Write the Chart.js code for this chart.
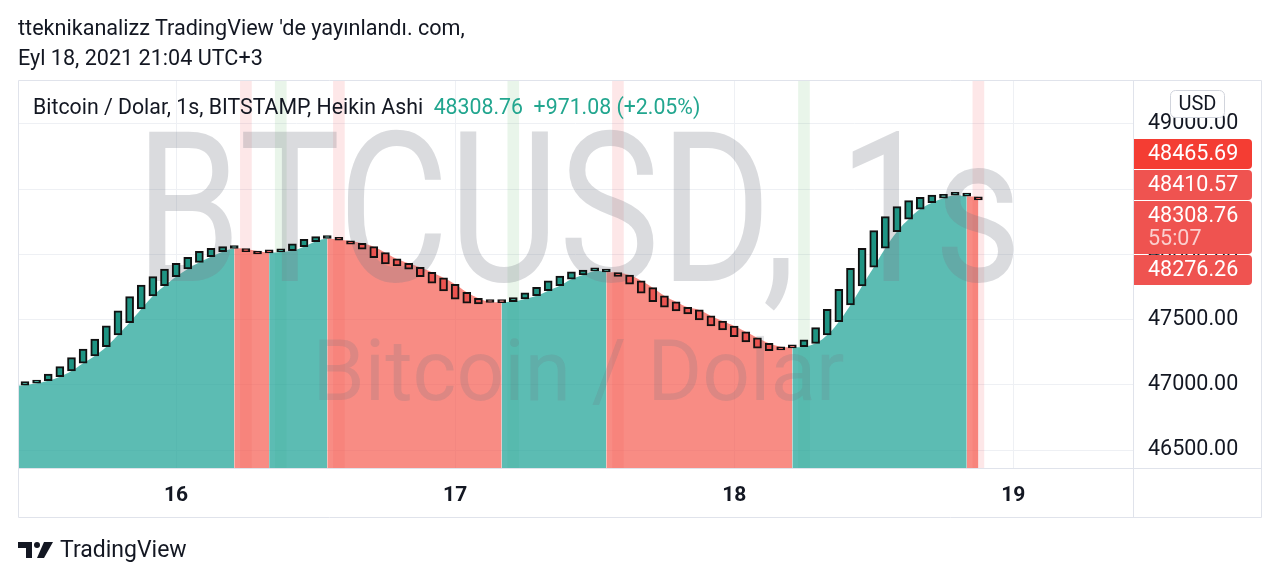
<!DOCTYPE html>
<html>
<head>
<meta charset="utf-8">
<script src="https://cdn.jsdelivr.net/npm/chart.js@4.4.1/dist/chart.umd.min.js"></script>
<style>
  body { margin: 0; background: #fff; font-family: Roboto, 'Noto Sans', sans-serif; color: #131722; }
  #wrap { position: relative; width: 1280px; height: 581px; overflow: hidden; }
  #grafico { position: absolute; left: 0; top: 0; }
  .txt { position: absolute; white-space: nowrap; }
  .head { font-size: 21.6px; left: 18px; }
  .leyenda { left: 33px; top: 94px; font-size: 21.3px; }
  .leyenda .v { color: #22a68f; }
  .pie { left: 18px; top: 536px; font-size: 23px; display: flex; align-items: center; }
</style>
</head>
<body>
<div id="wrap">
  <canvas id="grafico" width="1280" height="581"></canvas>
  <div class="txt head" style="top:15px">tteknikanalizz TradingView 'de yayınlandı. com,</div>
  <div class="txt head" style="top:45px">Eyl 18, 2021 21:04 UTC+3</div>
  <div class="txt leyenda">Bitcoin / Dolar, 1s, BITSTAMP, Heikin Ashi&nbsp;&nbsp;<span class="v">48308.76&nbsp;&nbsp;+971.08 (+2.05%)</span></div>
  <div class="txt pie">
    <svg width="36" height="18" viewBox="0 0 36 18" style="margin-right:6px">
      <path d="M0 1h14v16h-6V7H0z" fill="#131722"/>
      <circle cx="19" cy="4" r="3" fill="#131722"/>
      <path d="M26 1h9l-9 16h-7z" fill="#131722"/>
    </svg>
    TradingView
  </div>
</div>
<script>
// saat 0 = 16 Eyl 00:00, mumlar saatlik
const primeraHora = -14;
const aperturas = [46990, 46998, 47012, 47031, 47062, 47106, 47166, 47221, 47292, 47382, 47477, 47581, 47681, 47760, 47829, 47888, 47939, 47982, 48021, 48045,
  48041, 48026, 48015, 48019, 48028, 48059, 48098, 48122, 48112, 48103, 48085, 48059, 48013, 47965, 47932, 47901, 47863, 47821, 47771, 47709,
  47663, 47635, 47634, 47638, 47658, 47683, 47722, 47760, 47809, 47842, 47873, 47865, 47860, 47842, 47798, 47745, 47683, 47637, 47594, 47574,
  47528, 47489, 47451, 47407, 47361, 47318, 47292, 47287, 47292, 47318, 47382, 47484, 47612, 47758, 47901, 48047, 48174, 48269, 48347, 48396,
  48431, 48453, 48446, 48442];
const cierres = [47006, 47024, 47037, 47083, 47139, 47208, 47274, 47351, 47453, 47568, 47676, 47765, 47829, 47888, 47932, 47978, 48024, 48047, 48059, 48049,
  48021, 48003, 48011, 48023, 48080, 48116, 48136, 48126, 48108, 48078, 48040, 47975, 47926, 47911, 47886, 47829, 47779, 47719, 47656, 47626,
  47620, 47631, 47630, 47668, 47706, 47748, 47798, 47834, 47867, 47880, 47877, 47869, 47830, 47771, 47702, 47638, 47595, 47566, 47543, 47497,
  47451, 47420, 47369, 47328, 47280, 47262, 47267, 47283, 47344, 47438, 47579, 47732, 47893, 48047, 48182, 48289, 48366, 48412, 48438, 48455,
  48461, 48457, 48450, 48417];
const diasTicks = [0, 24, 48, 72];
const diasEtiquetas = ['16', '17', '18', '19'];
const preciosTicks = [46500, 47000, 47500, 48000, 48500, 49000];
const etiquetasPrecio = [48465.69, 48410.57, 48308.76, 48276.26];
const cuentaAtras = '55:07';
const xMin = -13.6, xMax = 82.3;
const yMin = 46362, yMax = 49337;

const VERDE = '#1e9483';
const ROJO = '#ea5450';
const alcista = i => cierres[i] >= aperturas[i];

const velas = aperturas.map((o, i) => ({ x: primeraHora + i, y: [o, cierres[i]] }));
const lineaArea = aperturas.map((o, i) => ({ x: primeraHora + i, y: o }));
const bandas = [];
const coloresBandas = [];
for (let i = 1; i < aperturas.length; i++) {
  if (alcista(i) !== alcista(i - 1)) {
    bandas.push({ x: primeraHora + i, y: [yMin, yMax] });
    coloresBandas.push(alcista(i) ? 'rgba(76,175,80,0.12)' : 'rgba(242,54,69,0.12)');
  }
}

const fuente = "Roboto, 'Noto Sans', sans-serif";

const marcaAgua = {
  id: 'marcaAgua',
  afterDatasetDraw(chart, args) {
    if (args.index !== 1) return;
    const { ctx, chartArea: a } = chart;
    ctx.save();
    ctx.beginPath();
    ctx.rect(a.left, a.top, a.width, a.height);
    ctx.clip();
    const cx = (a.left + a.right) / 2;
    const lineas = [
      { t: 'BTCUSD, 1s', size: 210, w: 0.795, y: 0.517, c: 'rgba(120,123,134,0.27)' },
      { t: 'Bitcoin / Dolar', size: 86, w: 0.477, y: 0.826, c: 'rgba(110,113,124,0.2)' }
    ];
    ctx.textAlign = 'center';
    ctx.textBaseline = 'alphabetic';
    lineas.forEach(l => {
      ctx.font = l.size + 'px ' + fuente;
      const sx = (a.width * l.w) / ctx.measureText(l.t).width;
      ctx.save();
      ctx.translate(cx + 3, a.top + a.height * l.y);
      ctx.scale(sx, 1);
      ctx.fillStyle = l.c;
      ctx.fillText(l.t, 0, 0);
      ctx.restore();
    });
    ctx.restore();
  }
};

const marco = {
  id: 'marco',
  afterDatasetsDraw(chart) {
    const { ctx, chartArea: a } = chart;
    const r = chart.scales.y.right, b = chart.scales.x.bottom;
    ctx.save();
    ctx.strokeStyle = '#e0e3eb';
    ctx.lineWidth = 1;
    ctx.beginPath();
    ctx.rect(a.left + 0.5, a.top + 0.5, r - a.left - 1, b - a.top - 1);
    ctx.moveTo(a.left, a.bottom + 0.5); ctx.lineTo(r, a.bottom + 0.5);
    ctx.moveTo(a.right + 0.5, a.top); ctx.lineTo(a.right + 0.5, b);
    ctx.stroke();
    ctx.restore();
  },
  afterDraw(chart) {
    const { ctx, chartArea: a } = chart;
    const y = chart.scales.y;
    ctx.save();
    // etiquetas de precio apiladas
    const alturas = etiquetasPrecio.map(p => (p === 48308.76 ? 53 : 30));
    const total = alturas.reduce((s, h) => s + h, 0) + (alturas.length - 1);
    const centro = etiquetasPrecio.reduce((s, p, i) => s + y.getPixelForValue(p) * alturas[i], 0) /
      alturas.reduce((s, h) => s + h, 0) + 4;
    let top = Math.round(centro - total / 2);
    ctx.font = '21.5px ' + fuente;
    ctx.textBaseline = 'middle';
    ctx.textAlign = 'left';
    etiquetasPrecio.forEach((p, i) => {
      const h = alturas[i];
      ctx.fillStyle = i === 0 ? '#f43d33' : '#ef5350';
      ctx.beginPath();
      ctx.roundRect(a.right + 1, top, 118, h, [0, 4, 4, 0]);
      ctx.fill();
      ctx.fillStyle = '#ffffff';
      ctx.fillText(p.toFixed(2), a.right + 15, top + 16);
      if (h > 30) {
        ctx.fillStyle = 'rgba(255,255,255,0.72)';
        ctx.fillText(cuentaAtras, a.right + 15, top + 39);
      }
      top += h + 1;
    });
    // caja USD
    ctx.fillStyle = '#ffffff';
    ctx.strokeStyle = '#d1d4dc';
    ctx.beginPath();
    ctx.roundRect(a.right + 37.5, 90.5, 54, 27, 5);
    ctx.fill();
    ctx.stroke();
    ctx.fillStyle = '#131722';
    ctx.textAlign = 'center';
    ctx.font = '20px ' + fuente;
    ctx.fillText('USD', a.right + 64.5, 105);
    ctx.restore();
  }
};

new Chart(document.getElementById('grafico').getContext('2d'), {
  type: 'bar',
  data: {
    datasets: [{
      type: 'bar',
      data: bandas,
      backgroundColor: coloresBandas,
      barThickness: 11,
      grouped: false,
      order: 3
    }, {
      type: 'line',
      data: lineaArea,
      fill: 'start',
      tension: 0.4,
      pointRadius: 0,
      borderWidth: 0,
      backgroundColor: 'rgba(38,166,154,0.75)',
      segment: {
        backgroundColor: c => alcista(c.p1DataIndex) ? 'rgba(38,166,154,0.75)' : 'rgba(245,86,74,0.68)',
        borderColor: c => alcista(c.p1DataIndex) ? 'rgba(38,166,154,0.75)' : 'rgba(245,86,74,0.68)'
      },
      order: 2
    }, {
      type: 'bar',
      data: velas,
      backgroundColor: velas.map((v, i) => alcista(i) ? VERDE : ROJO),
      borderColor: '#111111',
      borderWidth: 2,
      borderSkipped: false,
      barThickness: 8,
      minBarLength: 3,
      grouped: false,
      order: 1
    }]
  },
  options: {
    responsive: false,
    animation: false,
    layout: { padding: { left: 18, top: 80, right: 18, bottom: 63 } },
    plugins: { legend: { display: false }, tooltip: { enabled: false } },
    scales: {
      x: {
        type: 'linear',
        min: xMin,
        max: xMax,
        offset: false,
        afterBuildTicks: s => { s.ticks = diasTicks.map(v => ({ value: v })); },
        afterFit: s => { s.height = 50; },
        grid: { color: '#eef0f4', drawTicks: false, offset: false },
        border: { display: false },
        ticks: {
          padding: 15,
          color: '#131722',
          font: { family: fuente, size: 21, weight: 'bold' },
          callback: (v) => diasEtiquetas[diasTicks.indexOf(v)]
        }
      },
      y: {
        position: 'right',
        min: yMin,
        max: yMax,
        afterBuildTicks: s => { s.ticks = preciosTicks.map(v => ({ value: v })); },
        afterFit: s => { s.width = 129; },
        grid: { color: '#eef0f4', drawTicks: false },
        border: { display: false },
        ticks: {
          padding: 15,
          color: '#131722',
          font: { family: fuente, size: 21.5, lineHeight: 1.0 },
          callback: v => Number(v).toFixed(2)
        }
      }
    }
  },
  plugins: [marcaAgua, marco]
});
</script>
</body>
</html>
